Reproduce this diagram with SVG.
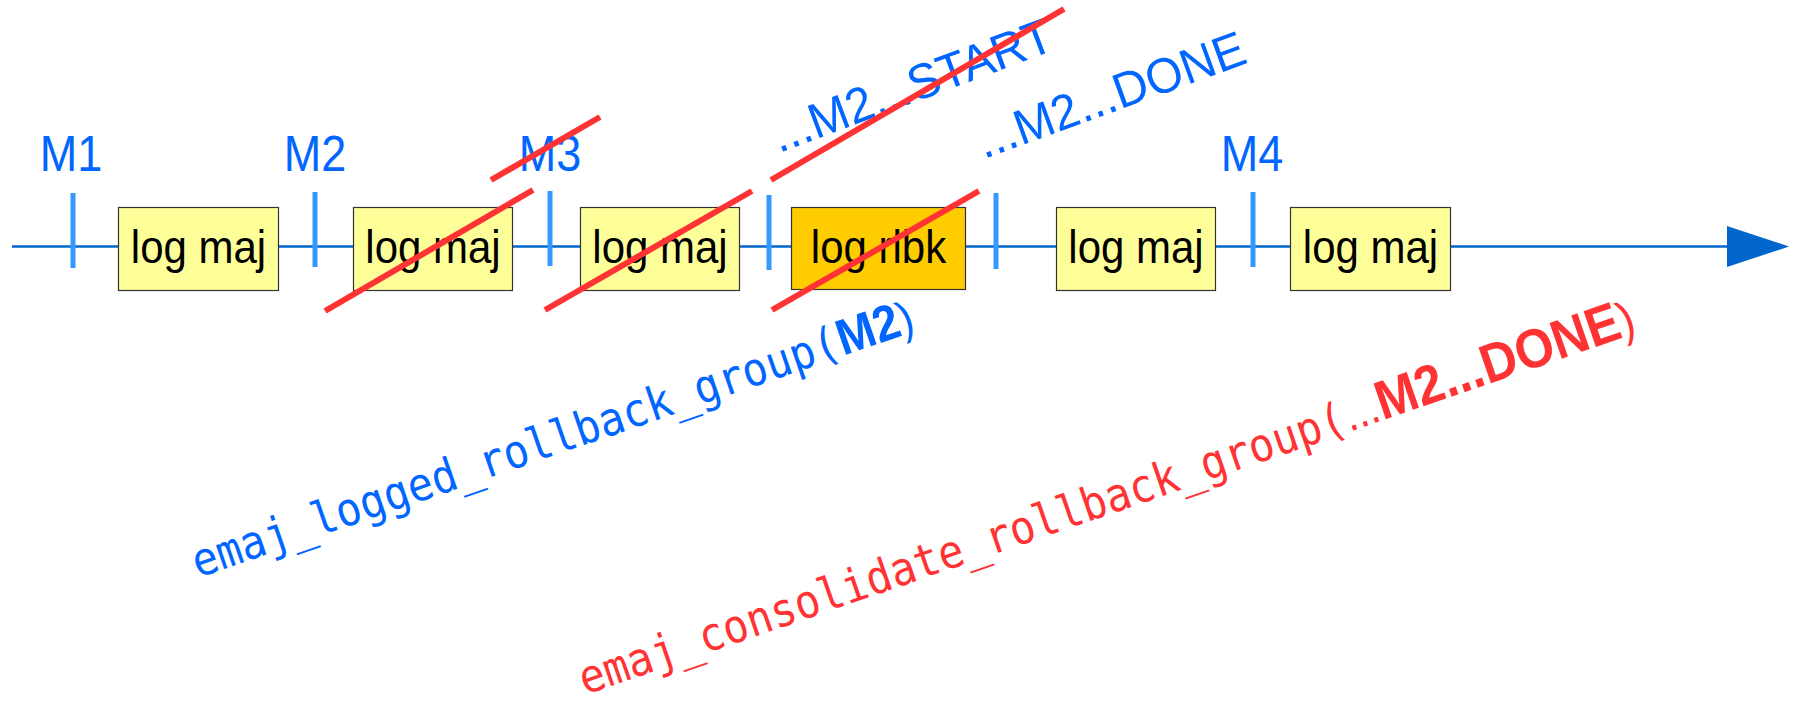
<svg xmlns="http://www.w3.org/2000/svg" width="1803" height="704" viewBox="0 0 1803 704">
<style>
.box{fill:#ffff99;stroke:#333333;stroke-width:1.2}
.rlbk{fill:#ffcc00;stroke:#333333;stroke-width:1.2}
.lbl{font-family:"Liberation Sans",Arial,sans-serif;font-size:42px;fill:#000000;text-anchor:middle}
.mk{font-family:"Liberation Sans",Arial,sans-serif;font-size:45px;fill:#0066ff;text-anchor:middle}
.blue{font-family:"Liberation Sans",Arial,sans-serif;font-size:47.5px;fill:#0066ff}
.tick{stroke:#3399ff;stroke-width:5;fill:none}
.axis{stroke:#0066cc;stroke-width:2.5;fill:none}
.strike{stroke:#ff3333;stroke-width:6;fill:none}
.mono{font-family:"DejaVu Sans Mono","Liberation Mono",monospace;font-size:42px}
.sans{font-family:"Liberation Sans",Arial,sans-serif}
</style>
<rect width="1803" height="704" fill="#ffffff"/>
<g id="connectors">
  <line class="axis" x1="12" y1="246.5" x2="1730" y2="246.5"/>
  <polygon points="1727,226 1727,267 1789,246.5" fill="#0066cc"/>
</g>
<g id="markers">
  <line class="tick" x1="73" y1="193" x2="73" y2="268"/>
  <line class="tick" x1="315" y1="192" x2="315" y2="267"/>
  <line class="tick" x1="550" y1="191" x2="550" y2="266"/>
  <line class="tick" x1="769" y1="195" x2="769" y2="270"/>
  <line class="tick" x1="996" y1="193" x2="996" y2="269"/>
  <line class="tick" x1="1253" y1="192" x2="1253" y2="267"/>
  <text class="mk" transform="translate(71 171) scale(1 1.1)">M1</text>
  <text class="mk" transform="translate(315 171) scale(1 1.1)">M2</text>
  <text class="mk" transform="translate(550 171) scale(1 1.1)">M3</text>
  <text class="mk" transform="translate(1252 171) scale(1 1.1)">M4</text>
</g>
<g id="box1"><rect class="box" x="118.5" y="207.5" width="160" height="83"/><text class="lbl" transform="translate(198.5 263) scale(1 1.08)">log maj</text></g>
<g id="box2"><rect class="box" x="353.5" y="207.5" width="159" height="83"/><text class="lbl" transform="translate(433 263) scale(1 1.08)">log maj</text></g>
<g id="box3"><rect class="box" x="580.5" y="207.5" width="159" height="83"/><text class="lbl" transform="translate(660 263) scale(1 1.08)">log maj</text></g>
<g id="box4"><rect class="rlbk" x="791.5" y="207.5" width="174" height="82"/><text class="lbl" transform="translate(878.5 263) scale(1 1.08)">log rlbk</text></g>
<g id="box5"><rect class="box" x="1056.5" y="207.5" width="159" height="83"/><text class="lbl" transform="translate(1136 263) scale(1 1.08)">log maj</text></g>
<g id="box6"><rect class="box" x="1290.5" y="207.5" width="160" height="83"/><text class="lbl" transform="translate(1370.5 263) scale(1 1.08)">log maj</text></g>
<g id="mark-start"><text class="blue" transform="translate(779 153) rotate(-20.5) scale(1 1.04)">...M2...START</text></g>
<g id="mark-done"><text class="blue" transform="translate(984 159) rotate(-20) scale(1 1.04)">...M2...DONE</text></g>
<g id="call-logged">
  <text transform="translate(198 578) rotate(-19) scale(1 1.1)" fill="#0066ff"><tspan class="mono">emaj_logged_rollback_group(</tspan><tspan class="sans" font-weight="bold" font-size="46">M2</tspan><tspan class="sans" font-size="42">)</tspan></text>
</g>
<g id="call-consolidate">
  <text transform="translate(585 695) rotate(-19) scale(1 1.1)" fill="#ff3333"><tspan class="mono">emaj_consolidate_rollback_group(</tspan><tspan class="sans" font-size="42">...</tspan><tspan class="sans" font-weight="bold" font-size="50">M2...DONE</tspan><tspan class="sans" font-size="44">)</tspan></text>
</g>
<g id="strikes">
  <line class="strike" x1="491" y1="180" x2="600" y2="117"/>
  <line class="strike" x1="325" y1="311" x2="533" y2="190"/>
  <line class="strike" x1="545" y1="310" x2="752" y2="191"/>
  <line class="strike" x1="771" y1="180" x2="1064" y2="9"/>
  <line class="strike" x1="772" y1="310" x2="979" y2="191"/>
</g>
</svg>
